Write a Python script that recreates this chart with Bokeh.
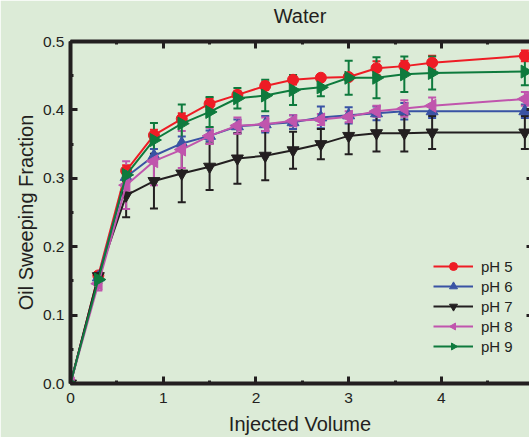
import math
from bokeh.plotting import figure
from bokeh.models import (LinearAxis, SingleIntervalTicker, NumeralTickFormatter, Whisker,
                          TeeHead, ColumnDataSource, Legend, LegendItem, Range1d,
                          CustomJSTickFormatter, Ngon)
from bokeh.embed import file_html
from bokeh.resources import INLINE

# ---- data ----
injected = [0, 0.3, 0.6, 0.9, 1.2, 1.5, 1.8, 2.1, 2.4, 2.7, 3.0, 3.3, 3.6, 3.9, 4.9]

ph5 = [0, 0.158, 0.311, 0.363, 0.387, 0.409, 0.422, 0.435, 0.444, 0.447, 0.448, 0.461, 0.464, 0.469, 0.479]
err5 = [0, 0.005, 0.008, 0.008, 0.008, 0.008, 0.006, 0.006, 0.007, 0.004, 0.004, 0.010, 0.008, 0.010, 0.008]

ph6 = [0, 0.155, 0.302, 0.333, 0.351, 0.362, 0.376, 0.379, 0.382, 0.389, 0.392, 0.395, 0.398, 0.398, 0.398]
err6 = [0, 0.004, 0.008, 0.010, 0.010, 0.008, 0.010, 0.012, 0.010, 0.016, 0.012, 0.010, 0.012, 0.010, 0.010]

ph7 = [0, 0.157, 0.275, 0.296, 0.307, 0.317, 0.329, 0.333, 0.341, 0.350, 0.362, 0.366, 0.366, 0.367, 0.367]
err7 = [0, 0.004, 0.032, 0.040, 0.042, 0.034, 0.037, 0.036, 0.027, 0.022, 0.027, 0.027, 0.027, 0.024, 0.024]

ph8 = [0, 0.146, 0.290, 0.325, 0.342, 0.362, 0.377, 0.379, 0.384, 0.386, 0.390, 0.398, 0.402, 0.406, 0.416]
err8 = [0, 0.010, 0.035, 0.035, 0.027, 0.012, 0.012, 0.010, 0.008, 0.008, 0.008, 0.008, 0.012, 0.012, 0.010]

ph9 = [0, 0.152, 0.305, 0.356, 0.380, 0.397, 0.417, 0.421, 0.429, 0.433, 0.447, 0.447, 0.452, 0.454, 0.456]
err9 = [0, 0.005, 0.010, 0.025, 0.028, 0.022, 0.015, 0.023, 0.022, 0.013, 0.025, 0.030, 0.026, 0.024, 0.020]

labels = ["pH 5", "pH 6", "pH 7", "pH 8", "pH 9"]

# ---- style ----
BG = "#dcebd7"
INK = "#231f20"
FONT = "Liberation Sans"
# (label, values, errors, colour, marker, ngon angle in degrees or None)
series = [
    (labels[0], ph5, err5, "#ee1c25", "circle", None),
    (labels[1], ph6, err6, "#3953a4", "triangle", None),
    (labels[2], ph7, err7, "#231f20", "inverted_triangle", None),
    (labels[3], ph8, err8, "#c055ad", "ngon", 90),
    (labels[4], ph9, err9, "#0e7a3d", "ngon", -90),
]

p = figure(width=529, height=437, output_backend="svg", toolbar_location=None,
           x_range=Range1d(0, 4.95), y_range=Range1d(0, 0.5),
           min_border_left=70, min_border_right=0, min_border_top=41, min_border_bottom=54,
           background_fill_color=BG, border_fill_color=BG, outline_line_color=None)
p.grid.visible = False

p.title.text = "Water"
p.title.align = "center"
p.title.text_font = FONT
p.title.text_font_size = "20px"
p.title.text_font_style = "normal"
p.title.text_color = INK
p.title.standoff = 5

def style_axis(ax):
    ax.axis_line_width = 4
    ax.axis_line_color = INK
    ax.major_tick_in = 7
    ax.major_tick_out = 0
    ax.major_tick_line_width = 3
    ax.major_tick_line_color = INK
    ax.minor_tick_in = 3
    ax.minor_tick_out = 0
    ax.minor_tick_line_width = 3
    ax.minor_tick_line_color = INK
    ax.major_label_text_font = FONT
    ax.major_label_text_font_size = "15.5px"
    ax.major_label_text_color = INK
    ax.axis_label_text_font = FONT
    ax.axis_label_text_font_size = "20px"
    ax.axis_label_text_font_style = "normal"
    ax.axis_label_text_color = INK

xa = p.xaxis[0]
xa.ticker = SingleIntervalTicker(interval=1, num_minor_ticks=2)
xa.formatter = NumeralTickFormatter(format="0")
xa.axis_label = "Injected Volume"
style_axis(xa)
xa.major_label_standoff = 9
xa.axis_label_standoff = 7

ya = p.yaxis[0]
ya.ticker = SingleIntervalTicker(interval=0.1, num_minor_ticks=2)
ya.formatter = NumeralTickFormatter(format="0.0")
ya.axis_label = "Oil Sweeping Fraction"
style_axis(ya)
ya.major_label_standoff = 6
ya.axis_label_standoff = 3

# top frame line with inward ticks
top = LinearAxis(ticker=SingleIntervalTicker(interval=1, num_minor_ticks=2),
                 formatter=CustomJSTickFormatter(code="return ''"))
style_axis(top)
top.major_label_standoff = 0
p.add_layout(top, "above")

# invisible spacer between the top frame line and the title
spacer = LinearAxis(ticker=SingleIntervalTicker(interval=1, num_minor_ticks=0),
                    formatter=CustomJSTickFormatter(code="return ''"),
                    axis_line_alpha=0, major_tick_in=0, major_tick_out=12,
                    major_tick_line_alpha=0, minor_tick_line_alpha=0,
                    major_label_standoff=0)
p.add_layout(spacer, "above")

# right edge: only the inward tick stubs are visible in the reference
right = LinearAxis(ticker=SingleIntervalTicker(interval=0.1, num_minor_ticks=0),
                   formatter=CustomJSTickFormatter(code="return ''"),
                   axis_line_alpha=0, major_tick_in=3, major_tick_out=0,
                   major_tick_line_width=3, major_tick_line_color=INK,
                   minor_tick_line_alpha=0, major_label_standoff=0)
p.add_layout(right, "right")

items = []
for name, ys, es, color, marker, ang in series:
    src = ColumnDataSource(dict(x=injected, y=ys,
                                upper=[a + b for a, b in zip(ys, es)],
                                lower=[a - b for a, b in zip(ys, es)]))
    w = Whisker(source=src, base="x", upper="upper", lower="lower",
                line_color=color, line_width=2,
                upper_head=TeeHead(size=8, line_color=color, line_width=2),
                lower_head=TeeHead(size=8, line_color=color, line_width=2))
    p.add_layout(w)
    ln = p.line("x", "y", source=src, line_color=color, line_width=2)
    if marker == "ngon":
        g = Ngon(x="x", y="y", radius=7.5, radius_units="screen", n=3,
                 angle=ang, angle_units="deg", fill_color=color, line_color=color)
        sc = p.add_glyph(src, g)
    else:
        sc = p.scatter("x", "y", source=src, marker=marker,
                       size=11 if marker == "circle" else 12,
                       fill_color=color, line_color=color)
    items.append(LegendItem(label=name, renderers=[ln, sc]))

legend = Legend(items=items, location=(363, 27), padding=0, margin=0, spacing=0,
                glyph_width=40, glyph_height=20, label_height=20, label_standoff=8,
                label_text_font=FONT, label_text_font_size="15px", label_text_color=INK,
                border_line_color=None, background_fill_alpha=0)
p.add_layout(legend)

open("out.html", "w").write(file_html(p, INLINE))
